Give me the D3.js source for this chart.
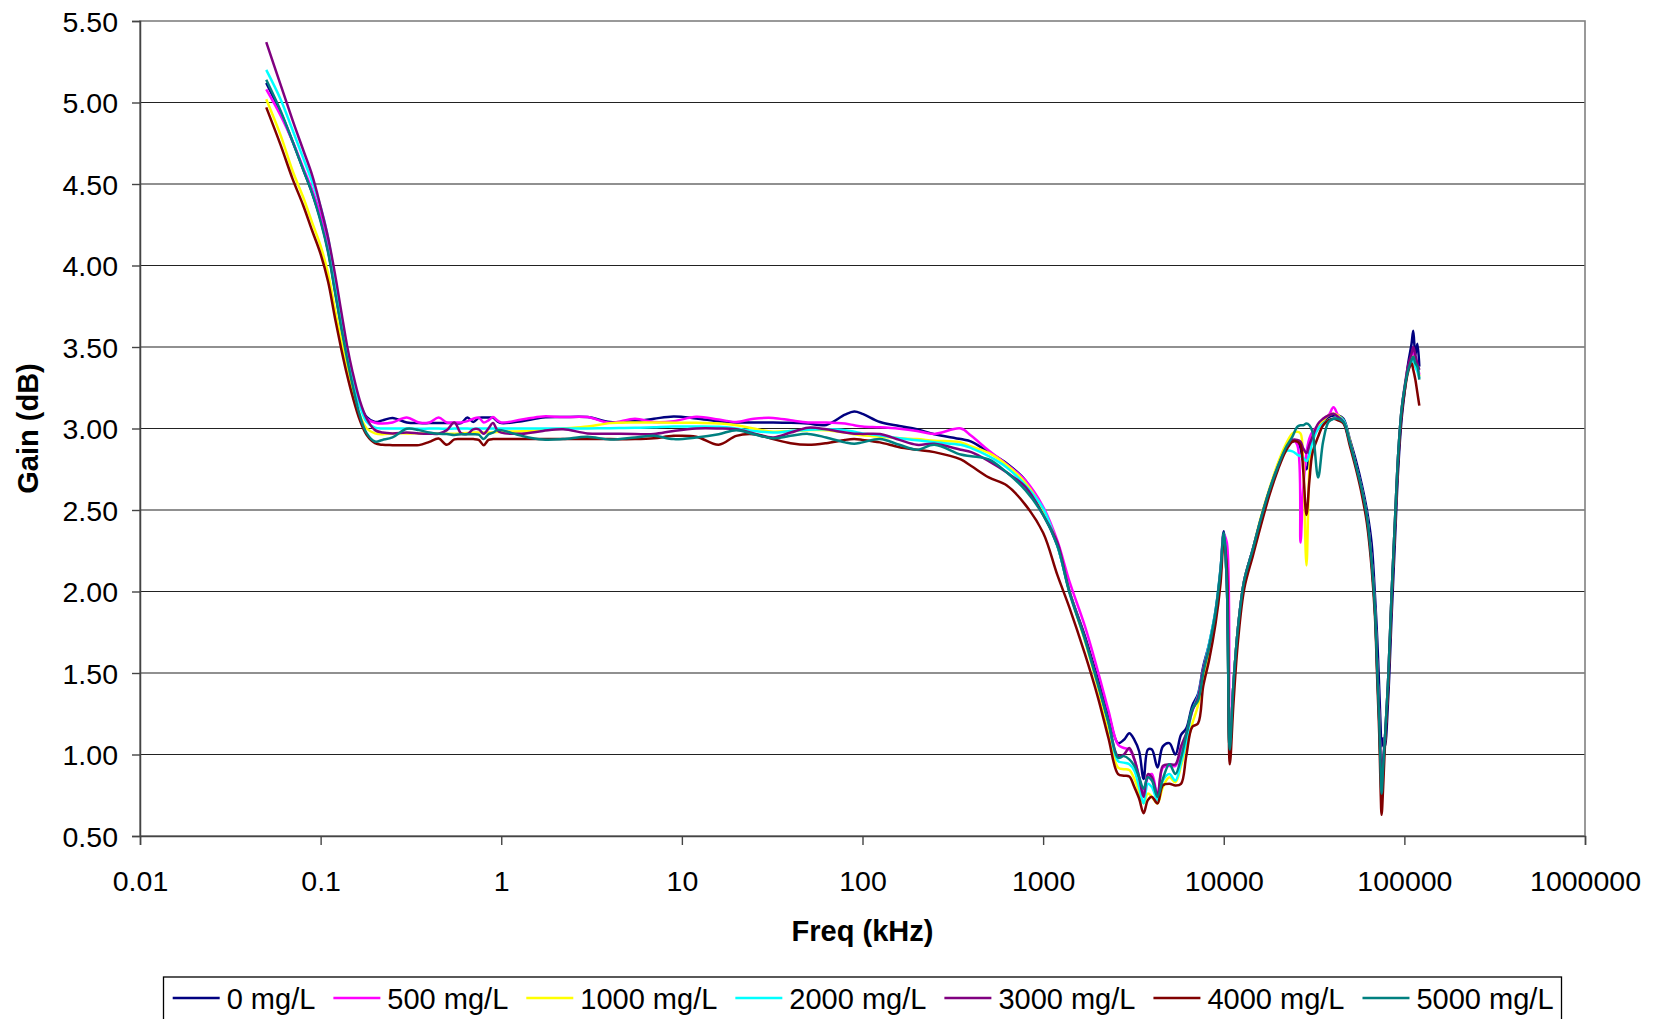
<!DOCTYPE html>
<html>
<head>
<meta charset="utf-8">
<script src="https://cdn.jsdelivr.net/npm/d3@7"></script>
<style>
  html, body { margin: 0; padding: 0; background: #fff; }
  svg { display: block; font-family: "Liberation Sans", Arial, Helvetica, sans-serif; }
</style>
</head>
<body>
<svg id="chart" width="1658" height="1019"></svg>
<script>
// Frequency grid (kHz) shared by every concentration series
const freqKHz = [0.05, 0.06, 0.07, 0.08, 0.09, 0.1, 0.11, 0.12, 0.13, 0.14, 0.15, 0.165, 0.18, 0.2, 0.22, 0.25,
  0.3, 0.35, 0.4, 0.45, 0.5, 0.55, 0.6, 0.65, 0.7, 0.75, 0.8, 0.85, 0.9, 0.95, 1,
  1.3, 1.7, 2.2, 3, 4, 5.5, 7, 9, 12,
  16, 20, 25, 32, 40, 50, 63, 80, 90, 100, 125, 160, 200, 250, 350, 400, 500, 630, 800, 1000, 1200,
  1400, 1700, 2000, 2300, 2600,
  2800, 3000, 3200, 3400, 3600, 3800, 4000, 4300, 4600, 5000, 5400, 5800, 6200, 6700, 7200, 7700,
  8300, 9000, 9600, 10000, 10400, 10800, 11300, 12000, 13000, 14500, 16000, 18000, 20000, 22000, 24000,
  25500, 26600, 27500, 28700, 29800, 31000, 33300, 35500, 38000, 40500, 43000, 46000,
  50000, 54000, 58000, 62000, 65800, 68700, 70800, 72600, 73800, 74800, 76300, 78000, 81400, 85000,
  88600, 92400, 96400, 100700, 105000, 109600, 112000, 115000, 118000, 121000];

// Gain (dB) per concentration
const gain0 = [5.12, 4.94, 4.76, 4.59, 4.44, 4.28, 4.09, 3.85, 3.63, 3.45, 3.30, 3.15, 3.07, 3.04, 3.05, 3.065,
  3.037, 3.033, 3.033, 3.033, 3.033, 3.033, 3.033, 3.067, 3.04, 3.065, 3.067, 3.067, 3.067, 3.045, 3.033,
  3.045, 3.067, 3.07, 3.07, 3.04, 3.045, 3.06, 3.074, 3.062,
  3.045, 3.037, 3.037, 3.037, 3.035, 3.03, 3.022, 3.085, 3.104, 3.09, 3.04, 3.015, 2.995, 2.965, 2.935, 2.92, 2.855, 2.785, 2.68, 2.48, 2.28,
  2.00, 1.73, 1.47, 1.25, 1.07,
  1.09, 1.13, 1.09, 1.02, 0.85, 1.03, 1.03, 0.92, 1.05, 1.07, 1.00, 1.12, 1.16, 1.30, 1.37, 1.54,
  1.68, 1.88, 2.14, 2.37, 2.05, 1.03, 1.42, 1.78, 2.07, 2.26, 2.44, 2.63, 2.77, 2.87, 2.92,
  2.92, 2.88, 2.80, 2.75, 2.85, 2.95, 3.00, 3.04, 3.07, 3.08, 3.08, 3.06,
  2.93, 2.80, 2.66, 2.50, 2.30, 1.98, 1.70, 1.40, 1.18, 1.05, 1.10, 1.05, 1.35, 1.85,
  2.30, 2.75, 3.05, 3.24, 3.40, 3.52, 3.60, 3.45, 3.52, 3.38];

const gain500 = [5.08, 4.92, 4.76, 4.60, 4.46, 4.31, 4.13, 3.90, 3.66, 3.46, 3.30, 3.14, 3.06, 3.035, 3.03, 3.037,
  3.067, 3.037, 3.037, 3.067, 3.037, 3.037, 3.037, 3.045, 3.06, 3.067, 3.037, 3.05, 3.07, 3.05, 3.037,
  3.055, 3.074, 3.07, 3.07, 3.035, 3.06, 3.04, 3.045, 3.072,
  3.055, 3.04, 3.06, 3.065, 3.05, 3.037, 3.037, 3.03, 3.02, 3.012, 3.007, 2.998, 2.985, 2.967, 3.0, 2.955, 2.865, 2.78, 2.68, 2.52, 2.31,
  2.06, 1.79, 1.52, 1.27, 1.06,
  1.04, 1.03, 0.97, 0.86, 0.76, 0.86, 0.88, 0.75, 0.92, 0.93, 0.93, 1.03, 1.12, 1.27, 1.34, 1.52,
  1.66, 1.86, 2.10, 2.35, 2.30, 1.05, 1.42, 1.78, 2.07, 2.26, 2.44, 2.63, 2.77, 2.87, 2.93,
  2.90, 2.30, 2.62, 2.85, 2.94, 2.98, 3.02, 3.06, 3.08, 3.13, 3.08, 3.04,
  2.91, 2.77, 2.63, 2.46, 2.19, 1.89, 1.51, 1.21, 0.96, 0.85, 0.95, 1.09, 1.47, 1.99,
  2.42, 2.84, 3.11, 3.26, 3.37, 3.44, 3.47, 3.40, 3.38, 3.33];

const gain1000 = [5.02, 4.80, 4.58, 4.42, 4.26, 4.12, 3.95, 3.73, 3.54, 3.37, 3.23, 3.08, 3.00, 2.97, 2.965, 2.97,
  2.97, 2.97, 2.968, 2.968, 2.968, 2.968, 2.97, 2.972, 2.975, 2.975, 2.975, 2.975, 2.977, 2.978, 2.98,
  2.983, 2.99, 3.00, 3.012, 3.033, 3.037, 3.037, 3.035, 3.035,
  3.03, 3.02, 3.0, 2.98, 2.985, 2.99, 2.99, 2.975, 2.965, 2.958, 2.95, 2.94, 2.935, 2.925, 2.915, 2.89, 2.85, 2.775, 2.665, 2.50, 2.29,
  2.00, 1.70, 1.42, 1.14, 0.92,
  0.91, 0.905, 0.85, 0.77, 0.70, 0.76, 0.74, 0.70, 0.80, 0.86, 0.83, 0.93, 1.05, 1.19, 1.30, 1.46,
  1.62, 1.84, 2.12, 2.34, 2.05, 1.03, 1.42, 1.78, 2.07, 2.26, 2.45, 2.64, 2.79, 2.90, 2.97,
  2.98, 2.97, 2.80, 2.16, 2.75, 2.95, 3.02, 3.05, 3.08, 3.09, 3.08, 3.05,
  2.92, 2.77, 2.63, 2.46, 2.19, 1.89, 1.51, 1.21, 0.92, 0.80, 0.93, 1.09, 1.47, 1.99,
  2.42, 2.84, 3.11, 3.26, 3.37, 3.43, 3.44, 3.38, 3.36, 3.32];

const gain2000 = [5.20, 5.02, 4.83, 4.66, 4.51, 4.36, 4.17, 3.91, 3.68, 3.48, 3.32, 3.14, 3.04, 3.005, 3.00, 3.00,
  3.0, 2.998, 3.0, 3.0, 2.998, 3.0, 3.0, 3.0, 2.998, 3.0, 3.0, 3.0, 3.0, 3.0, 3.0,
  3.0, 3.0, 3.0, 3.0, 3.002, 3.004, 3.008, 3.012, 3.012,
  3.01, 3.0, 2.985, 2.975, 2.985, 2.993, 2.996, 2.99, 2.98, 2.97, 2.957, 2.94, 2.928, 2.915, 2.90, 2.88, 2.83, 2.76, 2.65, 2.51, 2.28,
  2.00, 1.71, 1.44, 1.19, 0.96,
  0.95, 0.94, 0.90, 0.80, 0.70, 0.82, 0.80, 0.72, 0.84, 0.88, 0.84, 0.95, 1.08, 1.27, 1.36, 1.52,
  1.68, 1.88, 2.14, 2.35, 2.05, 1.03, 1.42, 1.78, 2.07, 2.26, 2.44, 2.63, 2.77, 2.86, 2.86,
  2.84, 2.83, 2.82, 2.80, 2.84, 2.92, 3.00, 3.03, 3.05, 3.06, 3.07, 3.05,
  2.91, 2.77, 2.63, 2.46, 2.19, 1.89, 1.51, 1.21, 0.94, 0.82, 0.95, 1.09, 1.47, 1.99,
  2.42, 2.84, 3.11, 3.26, 3.36, 3.41, 3.42, 3.38, 3.35, 3.31];

const gain3000 = [5.37, 5.11, 4.89, 4.71, 4.55, 4.36, 4.17, 3.95, 3.72, 3.51, 3.35, 3.17, 3.06, 2.99, 2.975, 2.97,
  2.975, 2.97, 2.968, 2.968, 2.99, 3.037, 2.97, 2.967, 2.995, 2.995, 2.968, 3.0, 3.033, 2.99, 2.975,
  2.968, 2.985, 2.995, 2.97, 2.968, 2.966, 2.966, 2.985, 3.0,
  3.0, 2.995, 2.97, 2.945, 2.975, 3.005, 2.995, 2.975, 2.968, 2.967, 2.966, 2.93, 2.90, 2.906, 2.87, 2.855, 2.80, 2.73, 2.64, 2.47, 2.30,
  2.00, 1.72, 1.45, 1.20, 0.99,
  1.00, 1.04, 0.97, 0.86, 0.74, 0.88, 0.86, 0.75, 0.93, 0.94, 0.94, 1.05, 1.13, 1.27, 1.35, 1.52,
  1.66, 1.86, 2.12, 2.35, 2.05, 1.03, 1.42, 1.78, 2.07, 2.26, 2.44, 2.63, 2.77, 2.87, 2.93,
  2.93, 2.92, 2.88, 2.85, 2.90, 2.95, 3.03, 3.06, 3.08, 3.09, 3.07, 3.04,
  2.91, 2.77, 2.63, 2.46, 2.20, 1.90, 1.53, 1.24, 0.98, 0.88, 0.97, 1.10, 1.47, 1.99,
  2.42, 2.84, 3.11, 3.27, 3.39, 3.46, 3.50, 3.45, 3.40, 3.36];

const gain4000 = [4.97, 4.74, 4.53, 4.37, 4.21, 4.07, 3.90, 3.68, 3.49, 3.33, 3.20, 3.05, 2.96, 2.91, 2.90, 2.898,
  2.898, 2.898, 2.918, 2.938, 2.90, 2.933, 2.935, 2.935, 2.935, 2.93, 2.898, 2.93, 2.935, 2.935, 2.935,
  2.935, 2.935, 2.935, 2.935, 2.935, 2.935, 2.94, 2.955, 2.95,
  2.90, 2.955, 2.965, 2.935, 2.91, 2.90, 2.91, 2.93, 2.935, 2.93, 2.915, 2.885, 2.87, 2.855, 2.81, 2.77, 2.70, 2.65, 2.53, 2.36, 2.10,
  1.90, 1.62, 1.36, 1.10, 0.88,
  0.87, 0.865, 0.80, 0.73, 0.64, 0.72, 0.74, 0.70, 0.81, 0.82, 0.81, 0.82, 0.99, 1.17, 1.19, 1.42,
  1.58, 1.80, 2.05, 2.32, 2.15, 0.94, 1.30, 1.70, 2.02, 2.22, 2.40, 2.60, 2.75, 2.86, 2.92,
  2.92, 2.90, 2.75, 2.47, 2.68, 2.85, 2.95, 3.02, 3.05, 3.06, 3.05, 3.03,
  2.89, 2.75, 2.60, 2.42, 2.15, 1.85, 1.45, 1.12, 0.80, 0.63, 0.80, 1.05, 1.42, 1.95,
  2.38, 2.80, 3.08, 3.24, 3.35, 3.40, 3.36, 3.30, 3.22, 3.14];

const gain5000 = [5.14, 4.95, 4.76, 4.59, 4.44, 4.27, 4.08, 3.84, 3.62, 3.43, 3.27, 3.08, 2.97, 2.92, 2.93, 2.945,
  2.998, 2.99, 2.975, 2.968, 2.966, 2.96, 2.965, 2.965, 2.965, 2.962, 2.935, 2.965, 2.975, 2.99, 2.99,
  2.955, 2.932, 2.935, 2.95, 2.932, 2.945, 2.955, 2.935, 2.945,
  2.965, 2.99, 2.965, 2.94, 2.955, 2.967, 2.945, 2.915, 2.906, 2.915, 2.935, 2.90, 2.87, 2.90, 2.84, 2.83, 2.81, 2.73, 2.62, 2.47, 2.28,
  1.99, 1.71, 1.44, 1.20, 0.98,
  0.99, 0.97, 0.93, 0.86, 0.79, 0.86, 0.84, 0.74, 0.85, 0.94, 0.88, 0.98, 1.12, 1.28, 1.33, 1.50,
  1.66, 1.87, 2.13, 2.36, 2.05, 1.03, 1.42, 1.78, 2.07, 2.26, 2.44, 2.63, 2.77, 2.88, 2.95,
  3.01, 3.02, 3.02, 3.03, 3.02, 2.98, 2.70, 2.92, 3.04, 3.06, 3.06, 3.04,
  2.91, 2.77, 2.63, 2.46, 2.19, 1.89, 1.51, 1.20, 0.92, 0.76, 0.92, 1.09, 1.47, 1.99,
  2.42, 2.84, 3.11, 3.26, 3.36, 3.42, 3.44, 3.40, 3.38, 3.30];

const seriesNames = ["0 mg/L", "500 mg/L", "1000 mg/L", "2000 mg/L", "3000 mg/L", "4000 mg/L", "5000 mg/L"];
const seriesColors = ["#000080", "#FF00FF", "#FFFF00", "#00FFFF", "#800080", "#800000", "#008080"];
const seriesGains = [gain0, gain500, gain1000, gain2000, gain3000, gain4000, gain5000];

const xTicks = [0.01, 0.1, 1, 10, 100, 1000, 10000, 100000, 1000000];
const yTicks = [0.5, 1.0, 1.5, 2.0, 2.5, 3.0, 3.5, 4.0, 4.5, 5.0, 5.5];

const svg = d3.select("#chart");
const W = 1658, H = 1019;
const plot = { left: 140, right: 1585, top: 21, bottom: 836 };

svg.append("rect").attr("width", W).attr("height", H).attr("fill", "#fff");

const x = d3.scaleLog().domain([0.01, 1000000]).range([plot.left, plot.right]);
const y = d3.scaleLinear().domain([0.5, 5.5]).range([plot.bottom, plot.top]);

// horizontal gridlines
svg.append("g")
  .selectAll("line")
  .data(yTicks.filter(v => v > 0.5 && v < 5.5))
  .join("line")
  .attr("x1", plot.left).attr("x2", plot.right)
  .attr("y1", d => y(d)).attr("y2", d => y(d))
  .attr("stroke", "#222").attr("stroke-width", 1.2);

// plot area frame
svg.append("rect")
  .attr("x", plot.left).attr("y", plot.top)
  .attr("width", plot.right - plot.left).attr("height", plot.bottom - plot.top)
  .attr("fill", "none").attr("stroke", "#808080").attr("stroke-width", 1.6);

// y axis
const yAxis = d3.axisLeft(y).tickValues(yTicks).tickSize(8).tickPadding(14)
  .tickFormat(d3.format(".2f"));
const gy = svg.append("g").attr("transform", `translate(${plot.left},0)`).call(yAxis);
gy.select(".domain").attr("stroke", "#444").attr("stroke-width", 1.5);
gy.selectAll(".tick line").attr("stroke", "#444").attr("stroke-width", 1.4);
gy.selectAll(".tick text")
  .attr("font-size", 28.5).attr("fill", "#000")
  .attr("font-family", "'Liberation Sans', Arial, sans-serif")
  .attr("dy", "0.36em");

// x axis
const xAxis = d3.axisBottom(x).tickValues(xTicks).tickSize(9).tickPadding(0)
  .tickFormat(d => String(d));
const gx = svg.append("g").attr("transform", `translate(0,${plot.bottom})`).call(xAxis);
gx.select(".domain").attr("stroke", "#444").attr("stroke-width", 1.5);
gx.selectAll(".tick line").attr("stroke", "#444").attr("stroke-width", 1.4);
gx.selectAll(".tick text")
  .attr("font-size", 28.5).attr("fill", "#000")
  .attr("font-family", "'Liberation Sans', Arial, sans-serif")
  .attr("y", 0).attr("dy", 0)
  .attr("transform", "translate(0,55)");

// series lines
const line = d3.line()
  .x(d => x(d[0]))
  .y(d => y(d[1]))
  .curve(d3.curveCatmullRom.alpha(0.5));

svg.append("clipPath").attr("id", "plotClip")
  .append("rect").attr("x", plot.left).attr("y", plot.top)
  .attr("width", plot.right - plot.left).attr("height", plot.bottom - plot.top);

const gLines = svg.append("g").attr("clip-path", "url(#plotClip)");
seriesGains.forEach((gains, i) => {
  const pts = freqKHz.map((f, j) => [f, gains[j]]);
  gLines.append("path")
    .datum(pts)
    .attr("d", line)
    .attr("fill", "none")
    .attr("stroke", seriesColors[i])
    .attr("stroke-width", 2.5)
    .attr("stroke-linejoin", "round");
});

// axis titles
svg.append("text")
  .attr("x", (plot.left + plot.right) / 2).attr("y", 941)
  .attr("text-anchor", "middle")
  .attr("font-size", 29).attr("font-weight", "bold").attr("fill", "#000")
  .text("Freq (kHz)");

svg.append("text")
  .attr("transform", `translate(38,${(plot.top + plot.bottom) / 2}) rotate(-90)`)
  .attr("text-anchor", "middle")
  .attr("font-size", 29).attr("font-weight", "bold").attr("fill", "#000")
  .text("Gain (dB)");

// legend
const legend = svg.append("g");
legend.append("rect")
  .attr("x", 163.5).attr("y", 977)
  .attr("width", 1398).attr("height", 70)
  .attr("fill", "#fff").attr("stroke", "#000").attr("stroke-width", 1.3);

let lx = 172.7;
seriesNames.forEach((name, i) => {
  legend.append("line")
    .attr("x1", lx).attr("x2", lx + 47)
    .attr("y1", 998).attr("y2", 998)
    .attr("stroke", seriesColors[i]).attr("stroke-width", 2.6);
  const t = legend.append("text")
    .attr("x", lx + 54).attr("y", 1009)
    .attr("font-size", 29).attr("fill", "#000")
    .text(name);
  lx += 54 + t.node().getComputedTextLength() + 18;
});
</script>
</body>
</html>
